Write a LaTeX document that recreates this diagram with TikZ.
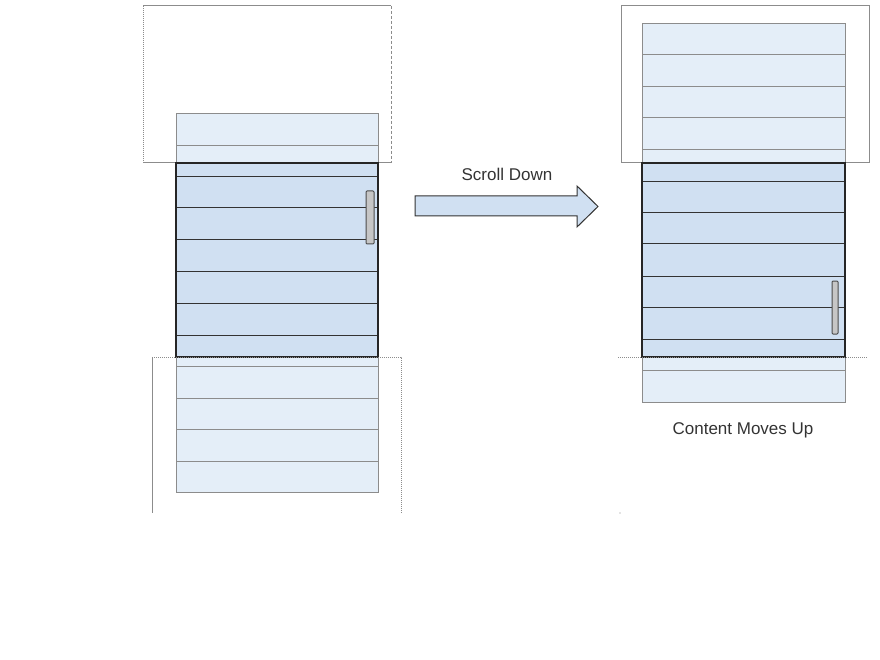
\documentclass[tikz,border=0pt]{standalone}
\usepackage{fontspec}
\setmainfont{Liberation Sans}
\definecolor{lightrow}{HTML}{E4EEF8}
\definecolor{darkrow}{HTML}{D0E0F2}
\definecolor{framegray}{HTML}{8C8C8C}
\definecolor{labelgray}{HTML}{333333}
\begin{document}
\begin{tikzpicture}[x=1pt,y=-1pt,line join=miter,line width=1pt]

\useasboundingbox (0,0) rectangle (880,660);

% left: before scrolling
\draw[framegray] (143,163) -- (391,163);
\draw[framegray] (143,6) -- (391,6);
\draw[framegray,densely dotted] (143,6) -- (143,163);
\draw[framegray,densely dashed] (391,6) -- (391,163);

\filldraw[fill=lightrow, draw=framegray] (176,114) rectangle (378,492);
\fill[darkrow] (176,163) rectangle (378,357);
\foreach \y in {146,366,398,429,461}
    \draw[framegray] (176,\y) -- (378,\y);
\foreach \y in {177,208,240,271,303,335}
    \draw[black!80] (176,\y) -- (378,\y);
\draw[black!85,line width=1.6pt] (176,163) rectangle (378,357);
\filldraw[fill=gray!45, draw=black!70, rounded corners=1pt] (366,191) rectangle (374,244);

\draw[framegray] (152,357) -- (152,513);
\draw[framegray,densely dotted] (152,357) -- (401,357) -- (401,513);

% arrow
\filldraw[fill=darkrow, draw=black!80] (415,196) -- (577,196) -- (577,186) -- (598,206.5)
    -- (577,227) -- (577,216) -- (415,216) -- cycle;
\node[text=labelgray] (scrolltext) at (507,174) {\fontsize{17}{20}\selectfont Scroll Down};

% right: after scrolling
\draw[framegray] (621,6) rectangle (869,163);

\filldraw[fill=lightrow, draw=framegray] (642,24) rectangle (845,402);
\fill[darkrow] (642,163) rectangle (845,357);
\foreach \y in {55,87,118,150,370}
    \draw[framegray] (642,\y) -- (845,\y);
\foreach \y in {182,213,244,276,307,339}
    \draw[black!80] (642,\y) -- (845,\y);
\draw[black!85,line width=1.6pt] (642,163) rectangle (845,357);
\filldraw[fill=gray!45, draw=black!70, rounded corners=1pt] (832,281) rectangle (838,334);

\draw[framegray,densely dotted] (618,357) -- (868,357);
\fill[framegray] (620,513) circle (0.6);

\node[text=labelgray] (movestext) at (743,430) {\fontsize{17}{20}\selectfont Content Moves Up};

\end{tikzpicture}
\end{document}
